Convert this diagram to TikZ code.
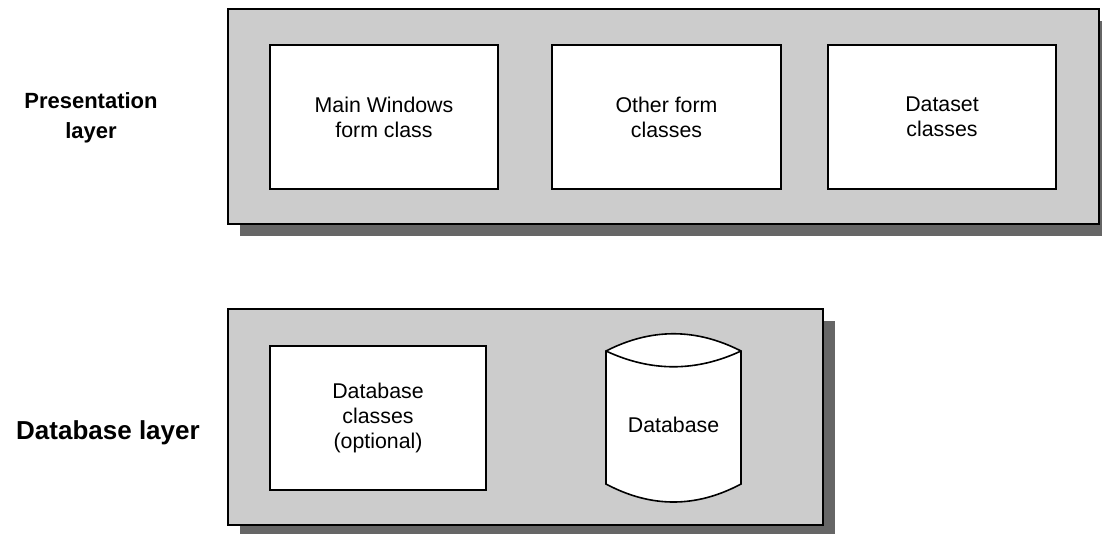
\documentclass[tikz,border=0pt]{standalone}
\usepackage{fontspec}
\setmainfont{Liberation Sans}
\usetikzlibrary{shadows}
\definecolor{layergray}{HTML}{CCCCCC}
\definecolor{shadowgray}{HTML}{666666}
\tikzset{
  layer/.style={draw, line width=1.2pt, fill=layergray,
    drop shadow={shadow xshift=9pt, shadow yshift=-9pt, fill=shadowgray, opacity=1}},
  classbox/.style={draw, line width=1.2pt, fill=white, align=center,
    minimum height=108pt, font=\fontsize{16}{18.75}\selectfont},
  layername/.style={align=center, font=\fontsize{16.5}{22.5}\selectfont\bfseries}
}
\begin{document}
\begin{tikzpicture}[x=0.75pt, y=-0.75pt]
  \useasboundingbox (0,0) rectangle (1102,533);
  % presentation layer
  \node[layer, minimum width=653.25pt, minimum height=161.25pt] (pres) at (663.5,116.5) {};
  \node[classbox, minimum width=171pt] (mainform) at (384,117) {Main Windows\\form class};
  \node[classbox, minimum width=171.75pt] (otherforms) at (666.5,117) {Other form\\classes};
  \node[classbox, minimum width=171pt] (datasets) at (942,117) {Dataset\\classes};
  \node[layername] (preslabel) at (91,118) {Presentation\\layer};
  % database layer
  \node[layer, minimum width=446.25pt, minimum height=162pt] (dblayer) at (525.5,417) {};
  \node[classbox, minimum width=162pt] (dbclasses) at (378,418) {Database\\classes\\(optional)};
  \draw[line width=1.2pt, fill=white] (606,351) .. controls (651,328) and (696,328) .. (741,351)
    -- (741,484) .. controls (696,508) and (651,508) .. (606,484) -- cycle;
  \draw[line width=1.2pt] (606,351) .. controls (651,372) and (696,372) .. (741,351);
  \node[font=\fontsize{16}{18.75}\selectfont] (db) at (673.5,425) {Database};
  \node[layername, font=\fontsize{19.5}{22.5}\selectfont\bfseries] (dblabel) at (108,433) {Database layer};
\end{tikzpicture}
\end{document}
